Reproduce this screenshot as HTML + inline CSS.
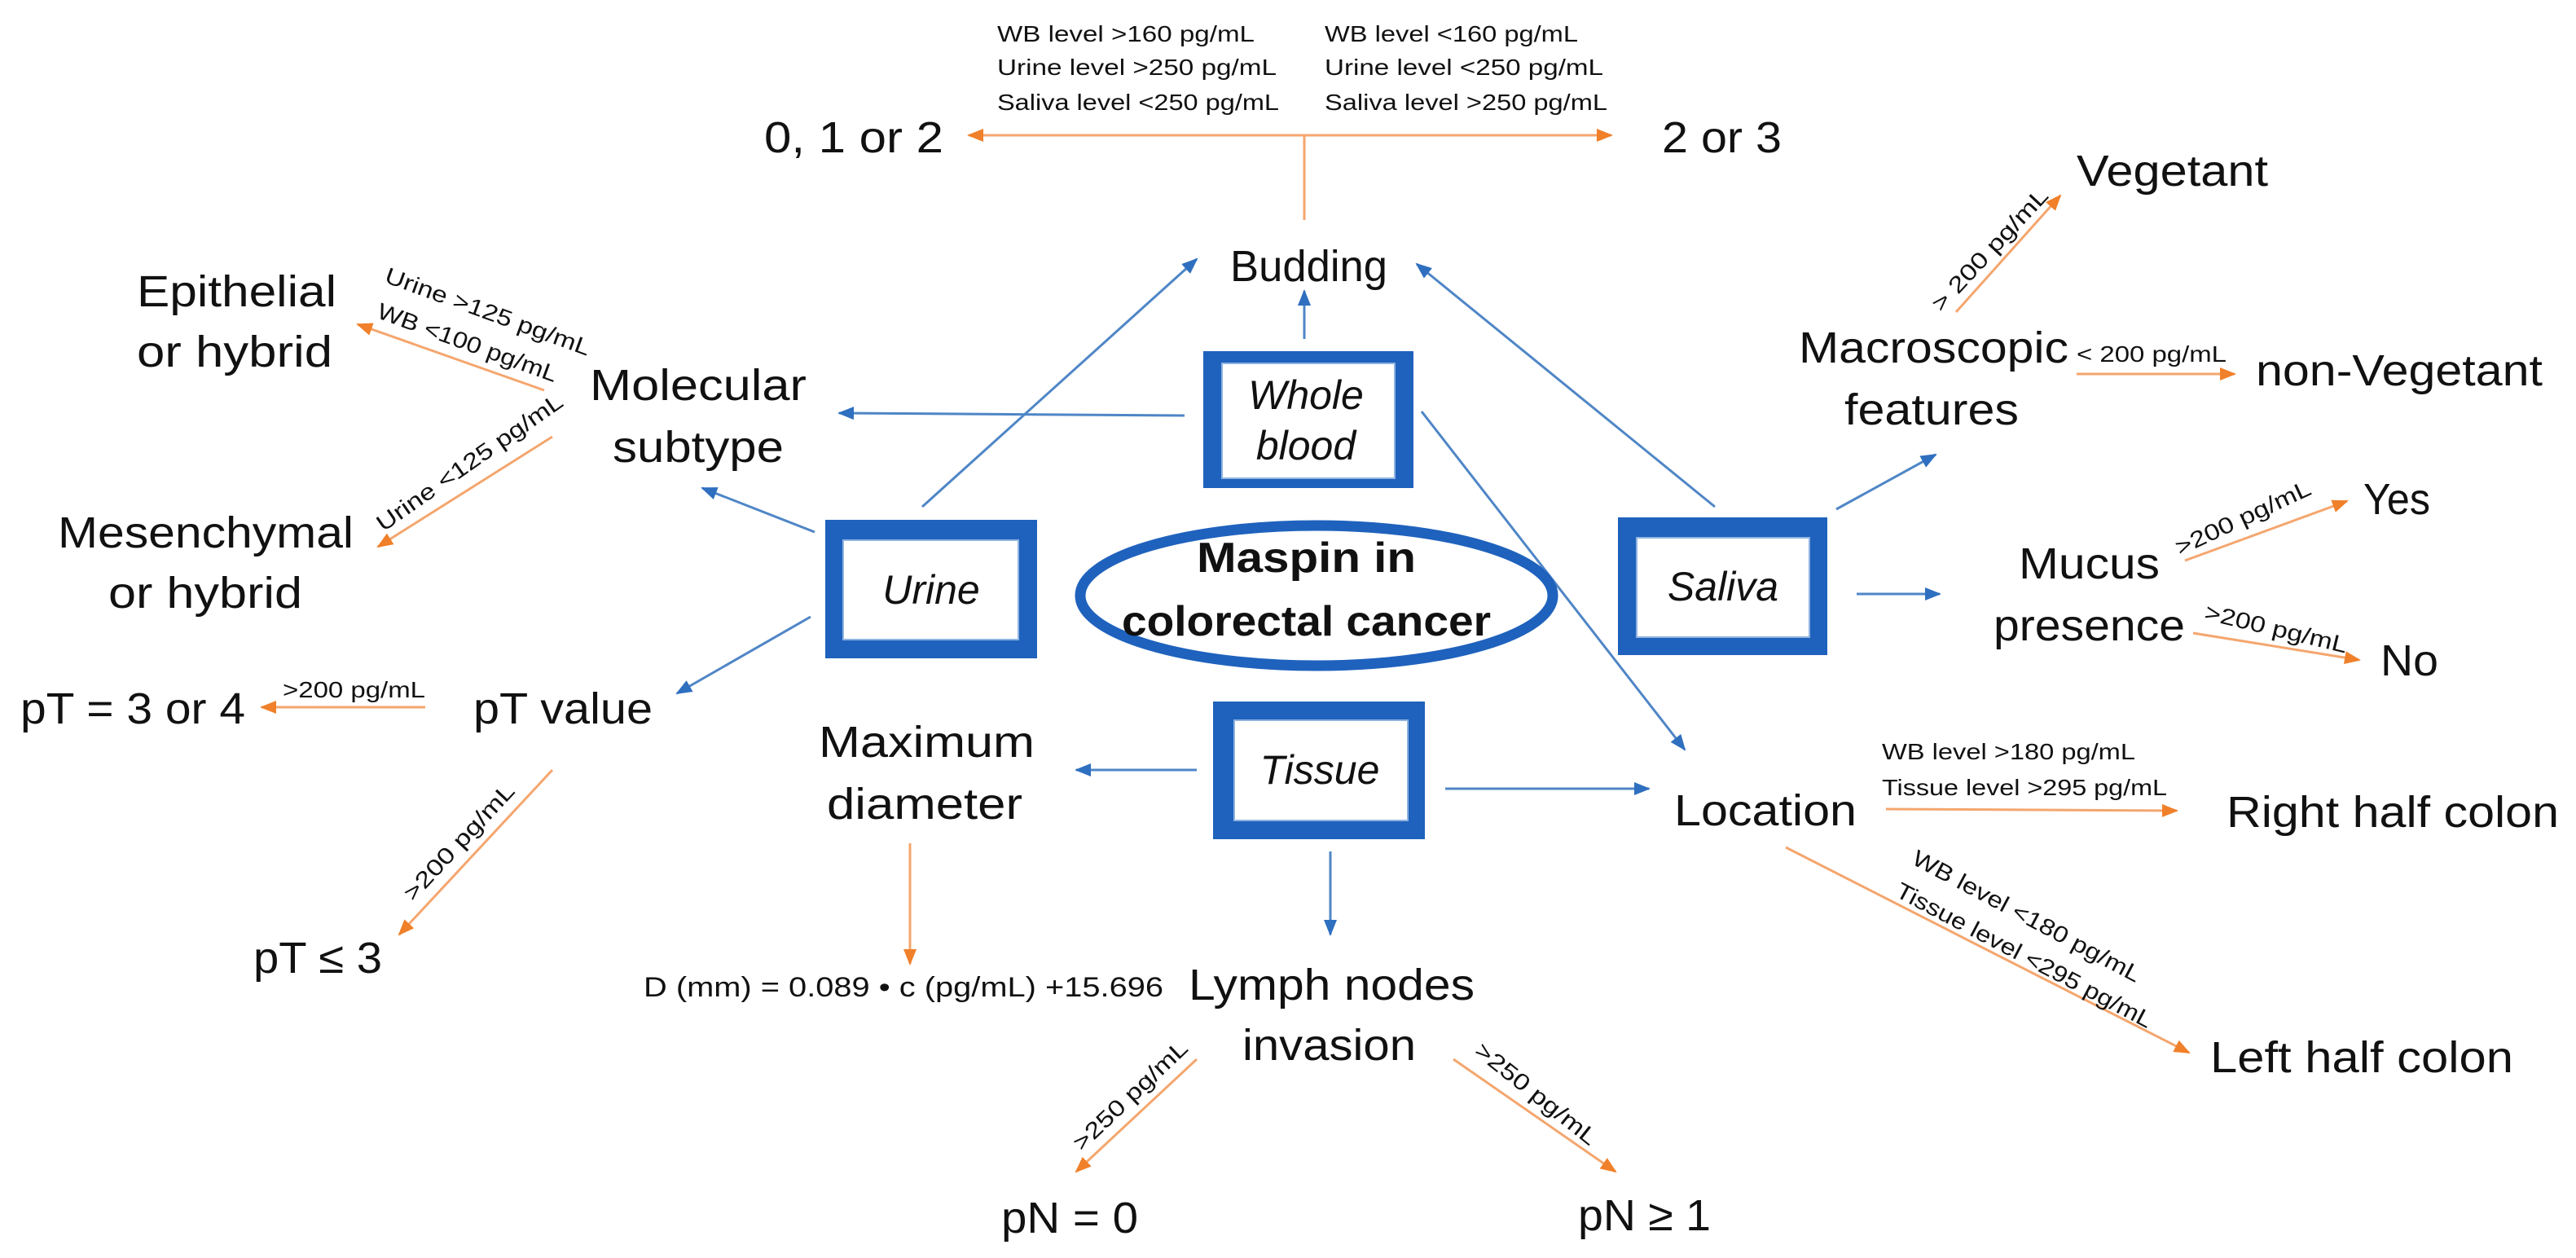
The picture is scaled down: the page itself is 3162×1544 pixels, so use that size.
<!DOCTYPE html>
<html><head><meta charset="utf-8"><style>
html,body{margin:0;padding:0;background:#fff;}
svg{display:block;}
text{font-family:"Liberation Sans",sans-serif;fill:#111;}
.m{font-size:54px;}
.s{font-size:28px;}
.b{font-size:50px;font-style:italic;}
</style></head><body>
<svg width="3162" height="1544" viewBox="0 0 3162 1544" xmlns="http://www.w3.org/2000/svg">
<defs>
<marker id="ab" markerUnits="userSpaceOnUse" markerWidth="20" markerHeight="16" refX="18" refY="8" orient="auto"><path d="M0,0 L20,8 L0,16 z" fill="#2F6FBF"/></marker>
<marker id="ao" markerUnits="userSpaceOnUse" markerWidth="20" markerHeight="16" refX="18" refY="8" orient="auto"><path d="M0,0 L20,8 L0,16 z" fill="#F0802A"/></marker>
</defs>
<g stroke="#F4A66E" stroke-width="3" fill="none">
<line x1="1601" y1="166" x2="1189" y2="166" marker-end="url(#ao)"/>
<line x1="1601" y1="166" x2="1978" y2="166" marker-end="url(#ao)"/>
<line x1="1601" y1="166" x2="1601" y2="270"/>
<line x1="668" y1="479" x2="439" y2="398" marker-end="url(#ao)"/>
<line x1="678" y1="536" x2="464" y2="671" marker-end="url(#ao)"/>
<line x1="2401" y1="383" x2="2529" y2="240" marker-end="url(#ao)"/>
<line x1="2549" y1="459" x2="2743" y2="459" marker-end="url(#ao)"/>
<line x1="2682" y1="688" x2="2881" y2="615" marker-end="url(#ao)"/>
<line x1="2692" y1="777" x2="2896" y2="810" marker-end="url(#ao)"/>
<line x1="2315" y1="993" x2="2672" y2="995" marker-end="url(#ao)"/>
<line x1="2192" y1="1040" x2="2687" y2="1292" marker-end="url(#ao)"/>
<line x1="1784" y1="1300" x2="1983" y2="1438" marker-end="url(#ao)"/>
<line x1="522" y1="868" x2="321" y2="868" marker-end="url(#ao)"/>
<line x1="678" y1="945" x2="490" y2="1147" marker-end="url(#ao)"/>
<line x1="1117" y1="1035" x2="1117" y2="1183" marker-end="url(#ao)"/>
<line x1="1469" y1="1300" x2="1321" y2="1438" marker-end="url(#ao)"/>
</g>
<g stroke="#4F86C6" stroke-width="3" fill="none">
<line x1="1601" y1="416" x2="1601" y2="357" marker-end="url(#ab)"/>
<line x1="1132" y1="622" x2="1469" y2="318" marker-end="url(#ab)"/>
<line x1="2105" y1="622" x2="1739" y2="324" marker-end="url(#ab)"/>
<line x1="1454" y1="510" x2="1030" y2="507" marker-end="url(#ab)"/>
<line x1="1000" y1="653" x2="862" y2="599" marker-end="url(#ab)"/>
<line x1="2254" y1="625" x2="2376" y2="558" marker-end="url(#ab)"/>
<line x1="2279" y1="729" x2="2381" y2="729" marker-end="url(#ab)"/>
<line x1="1745" y1="505" x2="2068" y2="920" marker-end="url(#ab)"/>
<line x1="1774" y1="968" x2="2024" y2="968" marker-end="url(#ab)"/>
<line x1="1633" y1="1045" x2="1633" y2="1147" marker-end="url(#ab)"/>
<line x1="995" y1="757" x2="831" y2="851" marker-end="url(#ab)"/>
<line x1="1469" y1="945" x2="1321" y2="945" marker-end="url(#ab)"/>
</g>
<!-- boxes -->
<rect x="1477" y="431" width="258" height="168" fill="#1F62BD"/><rect x="1500" y="446" width="212" height="141" fill="#fff" stroke="#8FB3E0" stroke-width="2"/>
<rect x="1013" y="638" width="260" height="170" fill="#1F62BD"/><rect x="1035" y="663" width="215" height="122" fill="#fff" stroke="#8FB3E0" stroke-width="2"/>
<rect x="1986" y="635" width="257" height="169" fill="#1F62BD"/><rect x="2009" y="660" width="212" height="122" fill="#fff" stroke="#8FB3E0" stroke-width="2"/>
<rect x="1489" y="861" width="260" height="169" fill="#1F62BD"/><rect x="1515" y="884" width="213" height="123" fill="#fff" stroke="#8FB3E0" stroke-width="2"/>
<ellipse cx="1616" cy="731" rx="290" ry="86" fill="#fff" stroke="#1F62BD" stroke-width="13"/>
<text x="1603" y="502" class="b" text-anchor="middle">Whole</text>
<text x="1603" y="564" class="b" text-anchor="middle">blood</text>
<text x="1143" y="741" class="b" text-anchor="middle">Urine</text>
<text x="2115" y="737" class="b" text-anchor="middle">Saliva</text>
<text x="1620" y="962" class="b" text-anchor="middle">Tissue</text>
<text x="1469" y="702" font-size="52" font-weight="bold" textLength="269" lengthAdjust="spacingAndGlyphs">Maspin in</text>
<text x="1377" y="780" font-size="52" font-weight="bold" textLength="453" lengthAdjust="spacingAndGlyphs">colorectal cancer</text>
<!-- main labels -->
<g class="m">
<text x="938" y="187" textLength="220" lengthAdjust="spacingAndGlyphs">0, 1 or 2</text>
<text x="2040" y="187" textLength="147" lengthAdjust="spacingAndGlyphs">2 or 3</text>
<text x="1510" y="345" textLength="193" lengthAdjust="spacingAndGlyphs">Budding</text>
<text x="168" y="376" textLength="245" lengthAdjust="spacingAndGlyphs">Epithelial</text>
<text x="168" y="450" textLength="240" lengthAdjust="spacingAndGlyphs">or hybrid</text>
<text x="724" y="491" textLength="266" lengthAdjust="spacingAndGlyphs">Molecular</text>
<text x="752" y="567" textLength="210" lengthAdjust="spacingAndGlyphs">subtype</text>
<text x="71" y="672" textLength="363" lengthAdjust="spacingAndGlyphs">Mesenchymal</text>
<text x="133" y="746" textLength="238" lengthAdjust="spacingAndGlyphs">or hybrid</text>
<text x="2549" y="228" textLength="235" lengthAdjust="spacingAndGlyphs">Vegetant</text>
<text x="2208" y="445" textLength="331" lengthAdjust="spacingAndGlyphs">Macroscopic</text>
<text x="2264" y="521" textLength="214" lengthAdjust="spacingAndGlyphs">features</text>
<text x="2769" y="473" textLength="352" lengthAdjust="spacingAndGlyphs">non-Vegetant</text>
<text x="2901" y="631" textLength="82" lengthAdjust="spacingAndGlyphs">Yes</text>
<text x="2478" y="710" textLength="173" lengthAdjust="spacingAndGlyphs">Mucus</text>
<text x="2447" y="786" textLength="235" lengthAdjust="spacingAndGlyphs">presence</text>
<text x="2922" y="829" textLength="71" lengthAdjust="spacingAndGlyphs">No</text>
<text x="2055" y="1013" textLength="224" lengthAdjust="spacingAndGlyphs">Location</text>
<text x="2733" y="1015" textLength="408" lengthAdjust="spacingAndGlyphs">Right half colon</text>
<text x="2713" y="1316" textLength="372" lengthAdjust="spacingAndGlyphs">Left half colon</text>
<text x="1459" y="1227" textLength="351" lengthAdjust="spacingAndGlyphs">Lymph nodes</text>
<text x="1525" y="1301" textLength="213" lengthAdjust="spacingAndGlyphs">invasion</text>
<text x="1937" y="1510" textLength="163" lengthAdjust="spacingAndGlyphs">pN ≥ 1</text>
<text x="1229" y="1513" textLength="168" lengthAdjust="spacingAndGlyphs">pN = 0</text>
<text x="25" y="888" textLength="276" lengthAdjust="spacingAndGlyphs">pT = 3 or 4</text>
<text x="581" y="888" textLength="220" lengthAdjust="spacingAndGlyphs">pT value</text>
<text x="1005" y="929" textLength="265" lengthAdjust="spacingAndGlyphs">Maximum</text>
<text x="1015" y="1005" textLength="240" lengthAdjust="spacingAndGlyphs">diameter</text>
<text x="311" y="1194" textLength="158" lengthAdjust="spacingAndGlyphs">pT ≤ 3</text>
</g>
<text x="790" y="1223" font-size="34" textLength="638" lengthAdjust="spacingAndGlyphs">D (mm) = 0.089 • c (pg/mL) +15.696</text>
<!-- small labels -->
<g class="s">
<text x="1224" y="51" textLength="316" lengthAdjust="spacingAndGlyphs">WB level &gt;160 pg/mL</text>
<text x="1224" y="92" textLength="343" lengthAdjust="spacingAndGlyphs">Urine level &gt;250 pg/mL</text>
<text x="1224" y="135" textLength="346" lengthAdjust="spacingAndGlyphs">Saliva level &lt;250 pg/mL</text>
<text x="1626" y="51" textLength="311" lengthAdjust="spacingAndGlyphs">WB level &lt;160 pg/mL</text>
<text x="1626" y="92" textLength="342" lengthAdjust="spacingAndGlyphs">Urine level &lt;250 pg/mL</text>
<text x="1626" y="135" textLength="347" lengthAdjust="spacingAndGlyphs">Saliva level &gt;250 pg/mL</text>
<text x="2549" y="444" textLength="184" lengthAdjust="spacingAndGlyphs">&lt; 200 pg/mL</text>
<text x="2310" y="932" textLength="311" lengthAdjust="spacingAndGlyphs">WB level &gt;180 pg/mL</text>
<text x="2310" y="976" textLength="350" lengthAdjust="spacingAndGlyphs">Tissue level &gt;295 pg/mL</text>
<text x="347" y="856" textLength="175" lengthAdjust="spacingAndGlyphs">&gt;200 pg/mL</text>
<g text-anchor="middle">
<text transform="translate(599,382) rotate(20)" x="0" y="10" textLength="266" lengthAdjust="spacingAndGlyphs">Urine &gt;125 pg/mL</text>
<text transform="translate(574,420) rotate(20)" x="0" y="10" textLength="233" lengthAdjust="spacingAndGlyphs">WB &lt;100 pg/mL</text>
<text transform="translate(576,567) rotate(-35)" x="0" y="10" textLength="272" lengthAdjust="spacingAndGlyphs">Urine &lt;125 pg/mL</text>
<text transform="translate(2442,306) rotate(-47)" x="0" y="10" textLength="195" lengthAdjust="spacingAndGlyphs">&gt; 200 pg/mL</text>
<text transform="translate(2753,635) rotate(-25)" x="0" y="10" textLength="180" lengthAdjust="spacingAndGlyphs">&gt;200 pg/mL</text>
<text transform="translate(2794,771) rotate(13.5)" x="0" y="10" textLength="179" lengthAdjust="spacingAndGlyphs">&gt;200 pg/mL</text>
<text transform="translate(2488,1124) rotate(28)" x="0" y="10" textLength="313" lengthAdjust="spacingAndGlyphs">WB level &lt;180 pg/mL</text>
<text transform="translate(2485,1172) rotate(27.7)" x="0" y="10" textLength="351" lengthAdjust="spacingAndGlyphs">Tissue level &lt;295 pg/mL</text>
<text transform="translate(563,1033) rotate(-47)" x="0" y="10" textLength="185" lengthAdjust="spacingAndGlyphs">&gt;200 pg/mL</text>
<text transform="translate(1387,1344) rotate(-43.5)" x="0" y="10" textLength="182" lengthAdjust="spacingAndGlyphs">&gt;250 pg/mL</text>
<text transform="translate(1886,1342) rotate(38.6)" x="0" y="10" textLength="183" lengthAdjust="spacingAndGlyphs">&gt;250 pg/mL</text>
</g>
</g>
</svg>
</body></html>
